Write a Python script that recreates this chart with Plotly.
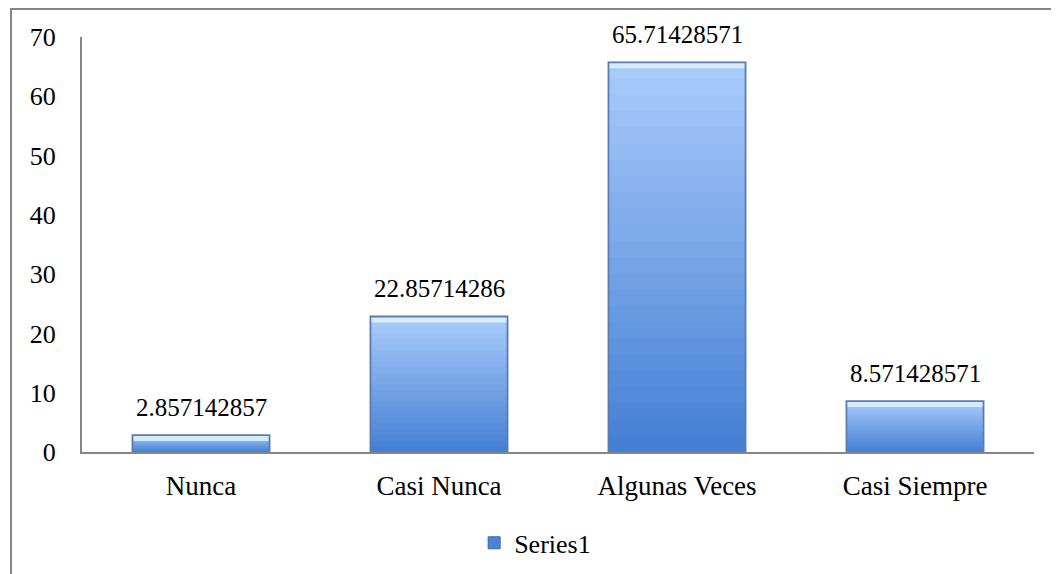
import plotly.graph_objects as go

categories = ["Nunca", "Casi Nunca", "Algunas Veces", "Casi Siempre"]
values = [2.857142857, 22.85714286, 65.71428571, 8.571428571]
y_ticks = [0, 10, 20, 30, 40, 50, 60, 70]
series_name = "Series1"

FONT = "Liberation Serif"

# gradient bottom -> top, like the Excel bevel fill
bottom_rgb = (70, 128, 212)
top_rgb = (168, 202, 251)
N = 24


def mix(a, b, t):
    return "rgb(%d,%d,%d)" % tuple(round(a[i] + (b[i] - a[i]) * t) for i in range(3))


fig = go.Figure()

# -------- gradient: each layer covers from its base up to the value --------
for k in range(N):
    fig.add_trace(go.Bar(
        x=categories,
        y=[v * (N - k) / N for v in values],
        base=[v * k / N for v in values],
        marker=dict(color=mix(bottom_rgb, top_rgb, k / (N - 1)), line=dict(width=0)),
        showlegend=False,
        hoverinfo="skip",
    ))

# -------- top bevel highlight --------
bevel = [min(1.0, v * 0.35) for v in values]
fig.add_trace(go.Bar(
    x=categories,
    y=bevel,
    base=[v - b for v, b in zip(values, bevel)],
    marker=dict(color="rgba(220,240,253,0.9)", line=dict(width=0)),
    showlegend=False,
    hoverinfo="skip",
))

# -------- outline + legend entry --------
fig.add_trace(go.Bar(
    x=categories,
    y=values,
    name=series_name,
    marker=dict(color="rgba(0,0,0,0)", line=dict(color="#5a7cb3", width=1.8)),
    showlegend=False,
))
fig.add_trace(go.Bar(
    x=[categories[0]],
    y=[None],
    name=series_name,
    marker=dict(color="#4f83d2", line=dict(color="#3a68b0", width=1)),
    showlegend=True,
))

# -------- data labels --------
for c, v in zip(categories, values):
    fig.add_annotation(
        x=c, y=v, text=f"{v:.10g}", showarrow=False,
        yshift=28, font=dict(family=FONT, size=25, color="#000000"),
    )

fig.update_layout(
    width=1059,
    height=574,
    barmode="overlay",
    bargap=0.424,
    plot_bgcolor="white",
    paper_bgcolor="white",
    margin=dict(l=74, r=33, t=29, b=130),
    font=dict(family=FONT, size=26, color="#000000"),
    showlegend=True,
    legend=dict(
        orientation="h", x=0.476, xanchor="center", y=-0.219, yanchor="middle",
        font=dict(family=FONT, size=26, color="#000000"), itemwidth=30,
    ),
    xaxis=dict(
        showline=True, linecolor="#868686", linewidth=2,
        ticks="", showgrid=False, tickfont=dict(family=FONT, size=27),
        ticklabelstandoff=9,
    ),
    yaxis=dict(
        range=[0, 70], tickvals=y_ticks, showline=True, linecolor="#868686",
        linewidth=2, showgrid=False, zeroline=False, ticks="",
        ticklabelstandoff=19, tickfont=dict(family=FONT, size=26),
    ),
    shapes=[dict(
        type="rect", xref="paper", yref="paper",
        x0=-0.0746, x1=1.06, y0=-0.4, y1=1.0675,
        line=dict(color="#868686", width=2), fillcolor="rgba(0,0,0,0)",
        layer="below",
    )],
)

fig.write_html("out.html")
